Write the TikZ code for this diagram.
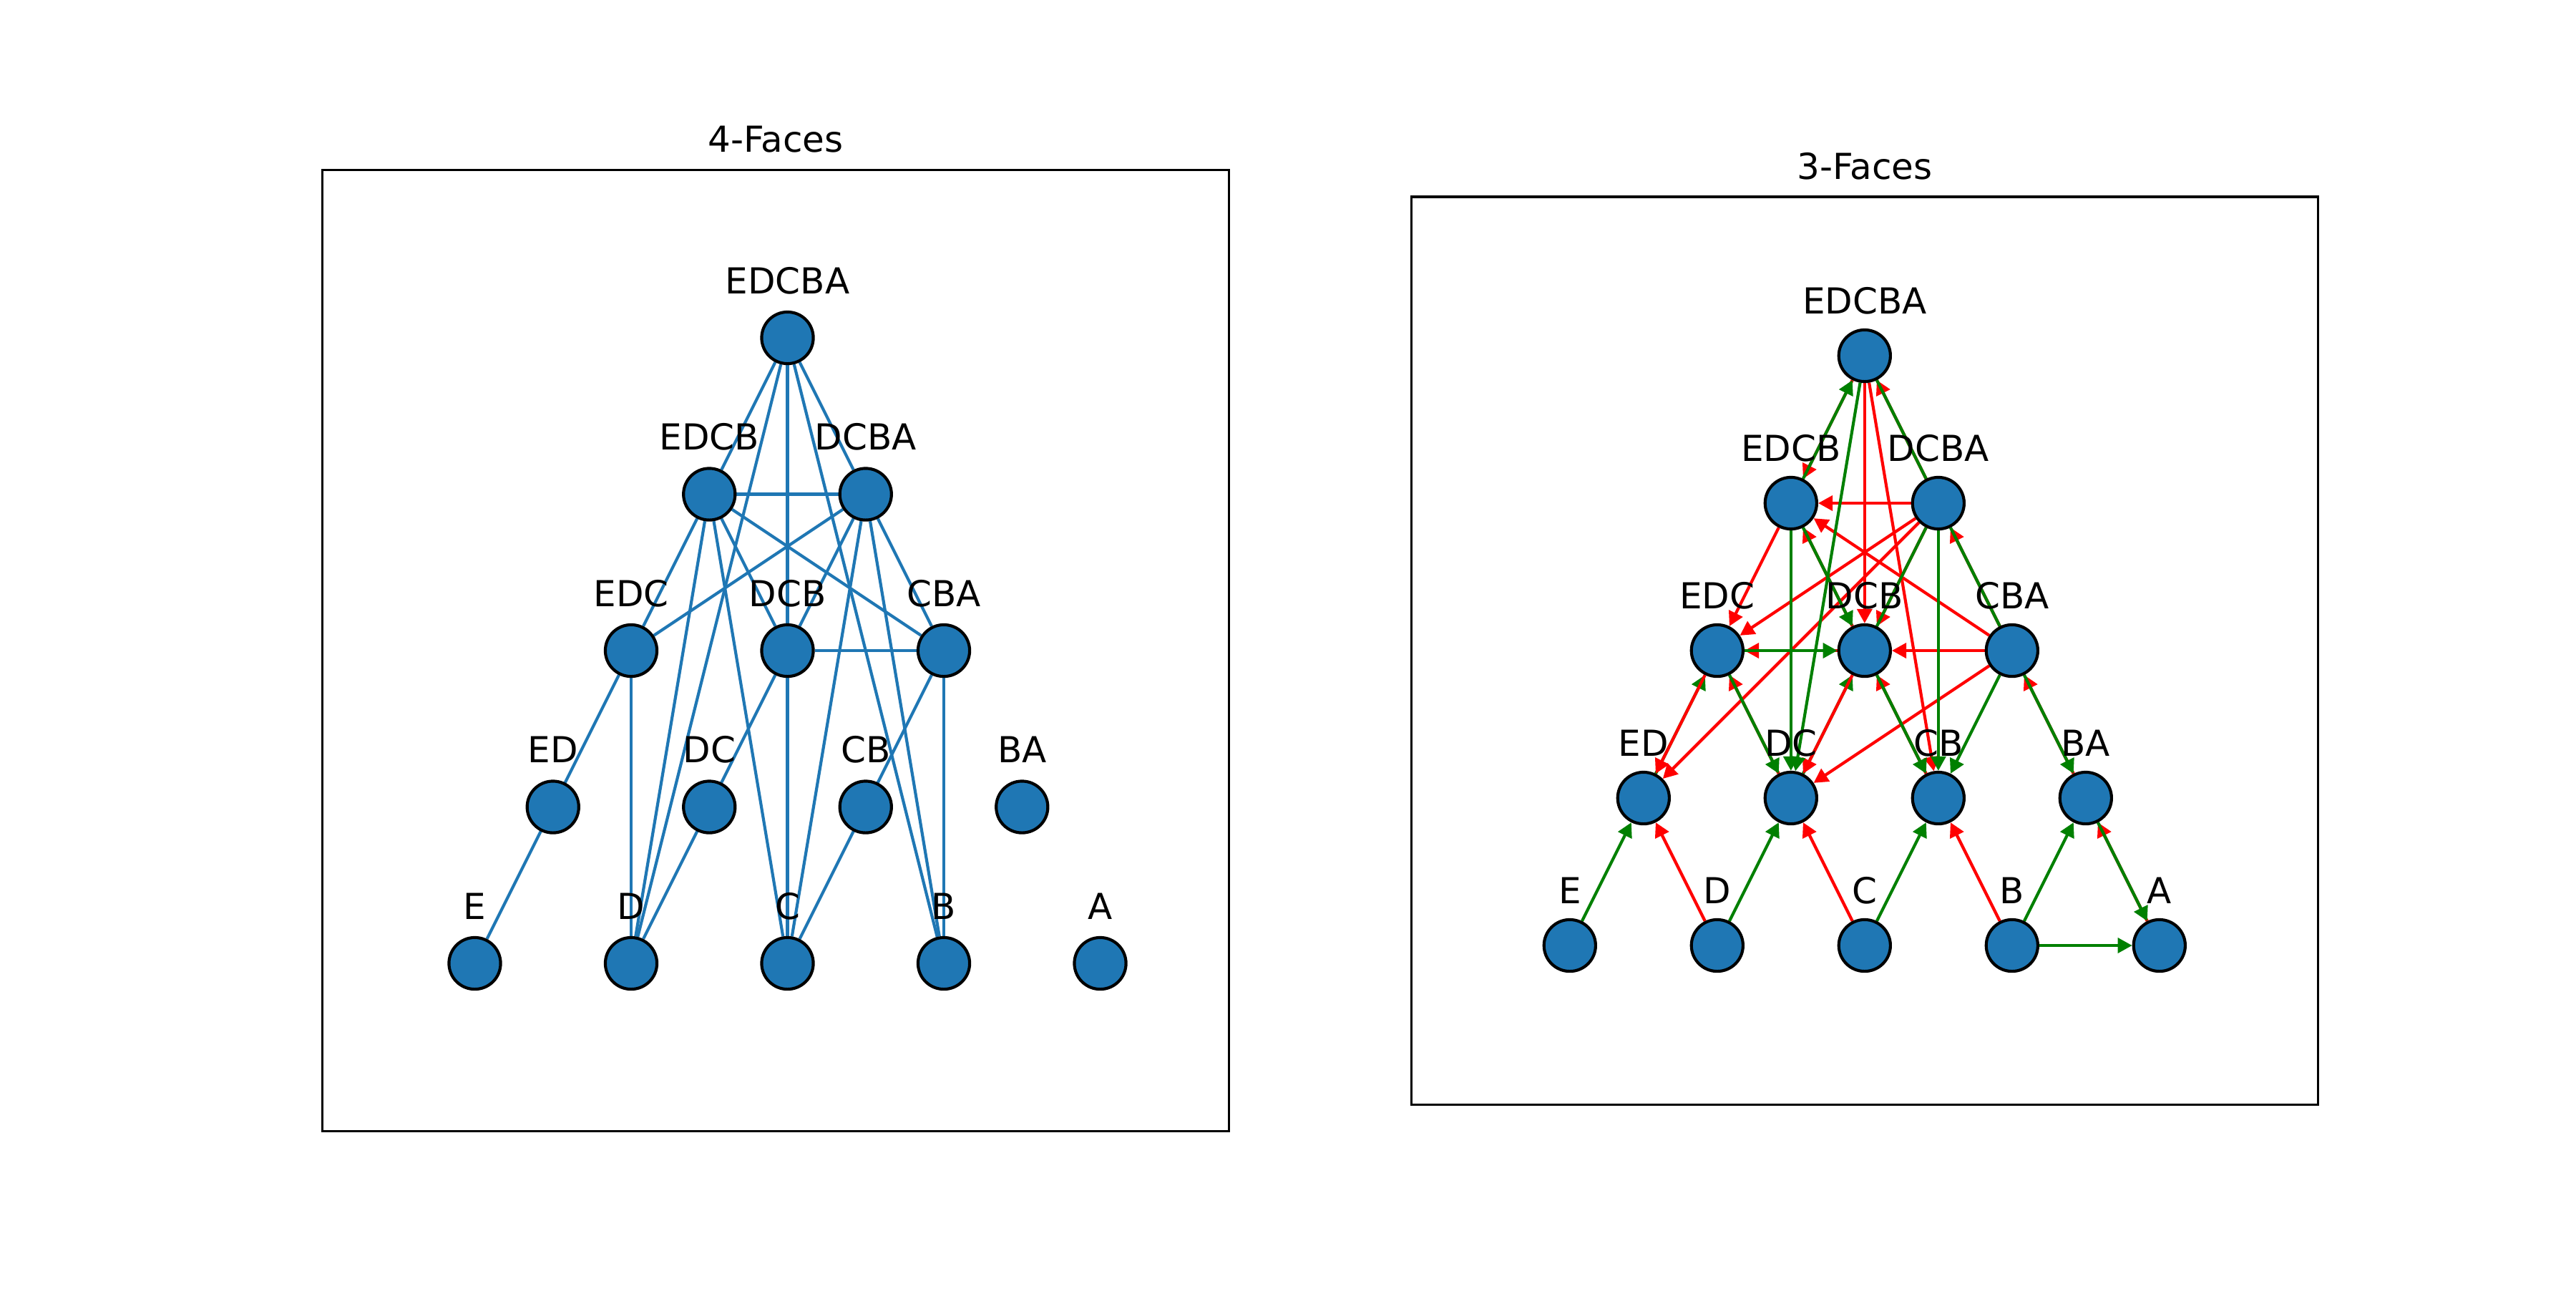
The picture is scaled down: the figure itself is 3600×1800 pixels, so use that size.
\documentclass[tikz,border=0pt]{standalone}
\usepackage{fontspec}
\setmainfont{DejaVu Sans}
\usetikzlibrary{arrows.meta,calc}
\pgfdeclarelayer{bg}
\pgfsetlayers{bg,main}
\definecolor{tabblue}{HTML}{1F77B4}
\definecolor{mplgreen}{HTML}{008000}
\definecolor{mplred}{HTML}{FF0000}
\begin{document}
\begin{tikzpicture}[x=0.24pt,y=-0.24pt,
  vtx/.style={circle,draw=black,fill=tabblue,line width=1pt,minimum size=17.32pt,inner sep=0pt},
  lbl/.style={anchor=base,inner sep=0pt,font=\fontsize{12}{14}\selectfont},
  ttl/.style={anchor=base,inner sep=0pt,font=\fontsize{12}{14}\selectfont},
  frame/.style={draw=black,line width=0.8pt},
  uedge/.style={draw=tabblue,line width=1pt},
  redarr/.style={draw=mplred,line width=1pt,-{Triangle[length=4.8pt,width=5pt]}},
  grnarr/.style={draw=mplgreen,line width=1pt,-{Triangle[length=4.8pt,width=5pt]}},
  grnline/.style={draw=mplgreen,line width=1pt},
]
\useasboundingbox (0,0) rectangle (3600,1800);
\begin{pgfonlayer}{bg}
\fill[white] (0,0) rectangle (3600,1800);
\end{pgfonlayer}

% frames and titles
\draw[frame] (450.7,237.5) rectangle (1717.7,1580.4);
\draw[frame] (1972.3,274.9) rectangle (3239.3,1543.6);
\node[ttl] (t4) at (1084.2,212.5) {4-Faces};
\node[ttl] (t3) at (2605.8,250) {3-Faces};

% left nodes
\foreach \n/\i/\r in {EDCBA/0/0, EDCB/-0.5/1, DCBA/0.5/1, EDC/-1/2, DCB/0/2, CBA/1/2,
  ED/-1.5/3, DC/-0.5/3, CB/0.5/3, BA/1.5/3, E/-2/4, D/-1/4, C/0/4, B/1/4, A/2/4}{
  \node[vtx] (L\n) at ({1100.5+\i*218.5},{472+\r*218.5}) {};
  \node[lbl] (L\n-lab) at ({1100.5+\i*218.5},{472+\r*218.5-62}) {\n};
}
% right nodes
\foreach \n/\i/\r in {EDCBA/0/0, EDCB/-0.5/1, DCBA/0.5/1, EDC/-1/2, DCB/0/2, CBA/1/2,
  ED/-1.5/3, DC/-0.5/3, CB/0.5/3, BA/1.5/3, E/-2/4, D/-1/4, C/0/4, B/1/4, A/2/4}{
  \node[vtx] (R\n) at ({2605.8+\i*206},{497+\r*206}) {};
  \node[lbl] (R\n-lab) at ({2605.8+\i*206},{497+\r*206-58.5}) {\n};
}

\begin{pgfonlayer}{bg}
% left edges
\foreach \a/\b in {EDCBA/EDCB, EDCBA/DCBA, EDCBA/DCB, EDCBA/D, EDCBA/B,
  EDCB/DCBA, EDCB/EDC, EDCB/DCB, EDCB/CBA, EDCB/D, EDCB/C,
  DCBA/EDC, DCBA/DCB, DCBA/CBA, DCBA/C, DCBA/B,
  DCB/CBA, EDC/E, EDC/D, DCB/D, DCB/C, CBA/C, CBA/B}{
  \draw[uedge] (L\a) -- (L\b);
}
% right edges: greens that lie under reds
\draw[grnarr] (RED) -- (REDC);
\draw[grnarr] (RDC) -- (RDCB);
% reds
\foreach \a/\b in {EDCBA/EDCB, DCBA/EDCBA, EDCBA/DCB, EDCBA/CB, DCBA/EDCB, EDCB/EDC,
  DCB/EDCB, CBA/EDCB, DCBA/EDC, DCBA/ED, DCBA/DCB, CBA/DCBA, CBA/DCB, DCB/EDC,
  CBA/DC, BA/CBA, EDC/ED, DC/EDC, DCB/DC, CB/DCB, D/ED, C/DC, B/CB, A/BA}{
  \draw[redarr] (R\a) -- (R\b);
}
% green lines without heads
\draw[grnline] (RDCBA) -- (REDCBA);
\draw[grnline] (RDCBA) -- (RDCB);
\draw[grnline] (RDCBA) -- (RCBA);
% green arrows
\foreach \a/\b in {EDCB/EDCBA, EDCBA/DC, EDCB/DC, EDCB/DCB, DCBA/CB, EDC/DCB,
  CBA/CB, CBA/BA, EDC/DC, DCB/CB, E/ED, D/DC, C/CB, B/BA, BA/A, B/A}{
  \draw[grnarr] (R\a) -- (R\b);
}
\end{pgfonlayer}
\end{tikzpicture}
\end{document}
